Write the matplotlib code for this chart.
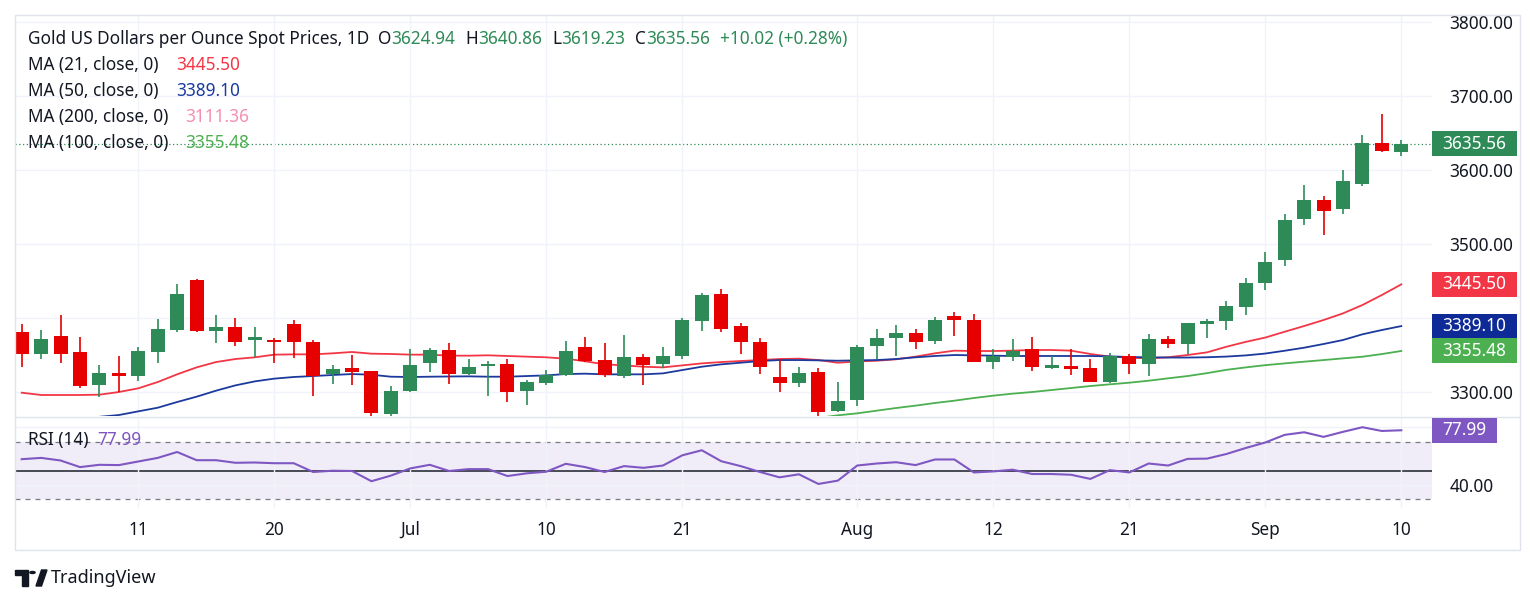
import matplotlib
matplotlib.use("Agg")
import matplotlib.pyplot as plt
import matplotlib.transforms as mtransforms
from matplotlib.patches import Rectangle, Polygon, Circle
from matplotlib.lines import Line2D
import numpy as np
import pandas as pd

plt.rcParams['font.family'] = ['Noto Sans', 'DejaVu Sans']

W, H = 1536, 604

# ---- data ----
dates = pd.bdate_range('2025-06-03', '2025-09-10')

opens = [3381.5, 3351.8, 3376.1, 3354.1, 3310.0, 3325.2, 3322.0, 3354.5, 3383.8, 3451.4,
         3382.9, 3387.8, 3369.8, 3370.3, 3391.9, 3367.1, 3323.9, 3332.4, 3327.9, 3270.7,
         3300.9, 3338.7, 3356.8, 3324.8, 3335.6, 3338.3, 3300.9, 3312.2, 3322.5, 3360.4,
         3343.2, 3321.6, 3347.3, 3338.3, 3348.6, 3396.0, 3432.4, 3389.2, 3368.0, 3320.3,
         3312.6, 3326.6, 3274.8, 3289.2, 3362.2, 3372.5, 3379.7, 3368.9, 3402.3, 3396.9,
         3341.0, 3346.9, 3358.1, 3332.0, 3334.7, 3332.0, 3313.5, 3348.6, 3338.3, 3371.2,
         3364.4, 3391.9, 3396.0, 3415.3, 3446.9, 3478.4, 3533.3, 3559.4, 3547.7, 3580.6,
         3636.0, 3624.94]
highs = [3391.9, 3383.8, 3403.6, 3374.8, 3337.0, 3348.7, 3360.4, 3398.2, 3446.4, 3452.3,
         3403.6, 3399.6, 3387.8, 3373.4, 3397.3, 3370.3, 3337.0, 3349.6, 3328.5, 3308.1,
         3358.1, 3359.5, 3365.8, 3344.6, 3341.9, 3344.6, 3316.2, 3329.3, 3368.9, 3374.8,
         3365.8, 3377.0, 3350.9, 3360.4, 3400.5, 3434.2, 3438.7, 3392.8, 3372.5, 3344.6,
         3333.3, 3332.9, 3313.5, 3363.5, 3385.2, 3390.6, 3385.2, 3400.9, 3408.6, 3405.0,
         3358.6, 3371.2, 3374.8, 3348.6, 3358.1, 3344.6, 3352.3, 3351.4, 3378.4, 3375.7,
         3393.3, 3398.2, 3423.0, 3453.6, 3489.2, 3540.5, 3579.3, 3564.9, 3600.0, 3647.3,
         3675.7, 3640.86]
lows = [3333.3, 3344.2, 3338.7, 3305.9, 3293.7, 3300.5, 3315.3, 3338.7, 3380.6, 3381.5,
        3365.8, 3362.2, 3346.9, 3339.6, 3346.4, 3294.6, 3310.8, 3309.9, 3266.7, 3266.7,
        3299.5, 3326.6, 3310.8, 3322.5, 3295.0, 3286.5, 3282.4, 3309.5, 3321.6, 3340.1,
        3319.8, 3318.9, 3309.5, 3332.0, 3345.0, 3382.9, 3381.1, 3351.4, 3324.3, 3300.5,
        3307.2, 3266.7, 3273.4, 3281.1, 3345.0, 3348.7, 3358.1, 3364.4, 3376.1, 3340.5,
        3330.6, 3341.9, 3328.8, 3331.5, 3323.0, 3313.5, 3311.7, 3324.3, 3321.6, 3359.9,
        3351.4, 3373.4, 3383.8, 3403.6, 3437.8, 3470.3, 3525.7, 3511.7, 3540.5, 3578.4,
        3624.5, 3619.23]
closes = [3351.8, 3371.6, 3351.8, 3308.6, 3325.2, 3322.0, 3355.4, 3385.2, 3432.0, 3382.9,
          3387.4, 3367.1, 3373.8, 3367.6, 3367.1, 3322.1, 3331.5, 3327.5, 3272.1, 3301.4,
          3336.5, 3356.8, 3324.3, 3334.2, 3337.4, 3299.6, 3313.1, 3323.4, 3355.4, 3341.9,
          3322.5, 3347.3, 3337.0, 3348.6, 3397.3, 3431.1, 3385.2, 3367.6, 3334.2, 3312.6,
          3325.2, 3273.4, 3288.3, 3361.3, 3373.4, 3379.7, 3367.1, 3396.9, 3397.3, 3341.0,
          3348.6, 3355.9, 3333.3, 3336.0, 3331.1, 3314.0, 3348.6, 3337.4, 3371.6, 3364.9,
          3392.8, 3396.4, 3416.2, 3447.8, 3476.1, 3532.4, 3559.4, 3545.0, 3585.6, 3636.0,
          3625.54, 3635.56]

ma21 = [3299.1, 3296.0, 3296.0, 3296.0, 3296.4, 3300.0, 3305.0, 3313.5, 3323.9, 3333.3,
        3340.5, 3344.6, 3346.9, 3350.5, 3350.9, 3350.9, 3352.3, 3354.1, 3351.8, 3351.4,
        3350.5, 3350.5, 3349.2, 3349.1, 3349.6, 3348.7, 3347.8, 3346.9, 3345.1, 3341.5,
        3337.4, 3336.0, 3334.2, 3333.3, 3336.0, 3338.7, 3340.5, 3341.9, 3343.2, 3344.6,
        3345.1, 3343.2, 3339.6, 3341.3, 3342.3, 3344.2, 3347.8, 3352.3, 3355.9, 3355.4,
        3355.4, 3355.9, 3356.8, 3356.8, 3355.9, 3351.4, 3347.8, 3346.4, 3345.5, 3347.0,
        3350.0, 3353.6, 3361.2, 3367.8, 3373.6, 3381.5, 3389.2, 3397.3, 3406.3, 3417.6,
        3431.1, 3445.50]
ma50 = [3245.0, 3251.0, 3257.0, 3262.0, 3266.5, 3268.9, 3273.9, 3278.8, 3286.5, 3293.7,
        3301.8, 3309.0, 3314.4, 3318.1, 3320.3, 3321.6, 3323.0, 3324.3, 3323.4, 3320.7,
        3320.3, 3320.7, 3321.0, 3321.2, 3320.7, 3320.7, 3321.6, 3322.5, 3324.3, 3324.8,
        3323.9, 3323.9, 3323.9, 3325.2, 3329.7, 3334.2, 3337.4, 3339.6, 3341.9, 3343.2,
        3343.2, 3342.8, 3342.3, 3342.8, 3343.2, 3344.6, 3346.9, 3348.7, 3350.0, 3349.6,
        3349.1, 3348.7, 3348.7, 3348.7, 3348.7, 3348.7, 3348.2, 3347.3, 3346.9, 3346.6,
        3346.6, 3347.0, 3347.9, 3349.5, 3352.0, 3355.8, 3359.9, 3364.9, 3370.3, 3378.0,
        3383.8, 3389.10]
ma100 = [np.nan] * 40 + [
        3261.5, 3265.0, 3268.5, 3271.2, 3274.8, 3278.4, 3281.6, 3285.2, 3288.3, 3291.9,
        3295.1, 3297.8, 3300.0, 3302.7, 3305.4, 3308.1, 3310.4, 3312.6, 3315.3, 3318.5,
        3321.6, 3325.5, 3330.0, 3333.3, 3336.3, 3338.7, 3341.0, 3343.2, 3345.5, 3347.7,
        3351.3, 3355.48]
ma200_last = 3111.36

rsi = [57.9, 58.8, 57.0, 52.4, 54.0, 53.8, 56.3, 58.8, 62.9, 57.2,
       57.2, 55.4, 55.6, 55.1, 55.1, 49.0, 49.9, 49.7, 42.6, 46.5,
       51.5, 54.0, 49.7, 51.0, 51.0, 46.2, 48.1, 49.2, 54.7, 52.4,
       49.0, 53.1, 51.9, 53.5, 60.6, 64.1, 56.5, 53.1, 49.0, 45.3,
       47.4, 40.7, 43.0, 53.5, 54.9, 55.8, 53.8, 57.7, 57.7, 48.7,
       49.4, 50.6, 47.6, 47.6, 47.1, 44.2, 50.3, 48.7, 54.9, 53.5,
       58.1, 58.3, 61.5, 65.7, 69.5, 74.8, 76.6, 73.4, 76.9, 80.1,
       77.5, 77.99]

tick_dates = ['2025-06-11', '2025-06-20', '2025-07-01', '2025-07-10', '2025-07-21',
              '2025-08-01', '2025-08-12', '2025-08-21', '2025-09-01', '2025-09-10']
tick_labels = ['11', '20', 'Jul', '10', '21', 'Aug', '12', '21', 'Sep', '10']
price_ticks = [3300, 3400, 3500, 3600, 3700, 3800]
price_tick_labels = ['3300.00', '', '3500.00', '3600.00', '3700.00', '3800.00']  # 3400 sits under a tag
rsi_ticks = [40, 80]
rsi_tick_labels = ['40.00', '']  # 80 sits under the RSI tag

# ---- colours ----
UP = '#2e8b57'
DOWN = '#e60000'
C21 = '#f23645'
C50 = '#1c3a9e'
C50_BOX = '#0d2a96'
C100 = '#4caf50'
C200 = '#f48fb1'
RSI_C = '#7e57c2'
TXT = '#131722'
GRID = '#f0f3fa'
BORDER = '#e0e3eb'
FS = 12.4


def fx(px):
    return px / W


def fy(py):
    return 1 - py / H


fig = plt.figure(figsize=(W / 100, H / 100), dpi=100)
fig.patch.set_facecolor('white')

ax = fig.add_axes([fx(15), fy(416), fx(1432) - fx(15), fy(15) - fy(416)])
rax = fig.add_axes([fx(15), fy(508), fx(1432) - fx(15), fy(417) - fy(508)], sharex=ax)

x = np.arange(len(dates))
tick_pos = [dates.get_loc(pd.Timestamp(d)) for d in tick_dates]

# candles
o = np.array(opens); h = np.array(highs); l = np.array(lows); c = np.array(closes)
cols = np.where(c >= o, UP, DOWN)
ax.vlines(x, l, h, colors=cols, lw=1.2, zorder=3)
body = np.maximum(np.abs(c - o), 1.2)
ax.bar(x, body, bottom=np.minimum(o, c), width=0.72, color=cols, zorder=4, linewidth=0)

# moving averages
ax.plot(x, ma21, color=C21, lw=1.3, zorder=2)
ax.plot(x, ma50, color=C50, lw=1.3, zorder=2)
ax.plot(x, ma100, color=C100, lw=1.3, zorder=2)

# last price dotted line
ax.axhline(closes[-1], color=UP, lw=0.9, linestyle=(0, (1, 2)), zorder=1)

ax.set_xlim(-0.345, 72.58)
ax.set_ylim(3267.6, 3809.5)
ax.set_yticks(price_ticks)
ax.set_yticklabels(price_tick_labels)
ax.set_xticks(tick_pos)
ax.grid(True, color=GRID, lw=1, zorder=0)
ax.tick_params(left=False, labelleft=False, bottom=False, labelbottom=False,
               right=False, labelright=True, pad=9, labelsize=FS, labelcolor=TXT)
for s in ax.spines.values():
    s.set_visible(False)

# RSI pane
rax.axhspan(30, 70, color=RSI_C, alpha=0.1, lw=0, zorder=0)
rax.axhline(70, color='#787b86', lw=0.9, linestyle=(0, (4, 4)), zorder=1)
rax.axhline(30, color='#787b86', lw=0.9, linestyle=(0, (4, 4)), zorder=1)
rax.axhline(50, color='#2a2e39', lw=1.2, zorder=1)
rax.plot(x, rsi, color=RSI_C, lw=1.5, zorder=3)
rax.set_ylim(24.0, 87.2)
rax.set_yticks(rsi_ticks)
rax.set_yticklabels(rsi_tick_labels)
rax.set_xticks(tick_pos)
rax.set_xticklabels(tick_labels)
rax.grid(True, color=GRID, lw=1, zorder=0)
rax.tick_params(left=False, labelleft=False, bottom=False, right=False, labelright=True,
                labelsize=FS, labelcolor=TXT)
rax.tick_params(axis='y', pad=9)
rax.tick_params(axis='x', pad=6)
for s in rax.spines.values():
    s.set_visible(False)

# frame and pane separator
fig.add_artist(Rectangle((fx(15), fy(550)), fx(1520) - fx(15), fy(15) - fy(550),
                         transform=fig.transFigure, fill=False, edgecolor=BORDER, lw=1))
fig.add_artist(Line2D([fx(15), fx(1520)], [fy(416.5), fy(416.5)],
                      transform=fig.transFigure, color=BORDER, lw=1))


def value_box(axis, value, color, half, right=1517):
    tr = mtransforms.blended_transform_factory(fig.transFigure, axis.transData)
    fig.add_artist(Rectangle((fx(1432), value - half), fx(right) - fx(1432), 2 * half,
                             transform=tr, facecolor=color, edgecolor='none', zorder=5))
    fig.text((fx(1432) + fx(right)) / 2, value, f'{value:.2f}', transform=tr,
             color='white', ha='center', va='center', fontsize=FS, zorder=6)


value_box(ax, closes[-1], UP, 16.9)
value_box(ax, ma21[-1], C21, 16.9)
value_box(ax, ma50[-1], C50_BOX, 16.9)
value_box(ax, ma100[-1], C100, 16.9)
value_box(rax, rsi[-1], RSI_C, 8.7, right=1497)

# legend texts
fig.text(fx(28), fy(39), 'Gold US Dollars per Ounce Spot Prices, 1D', color=TXT,
         fontsize=FS, va='center')
ohlc = [('O', opens[-1], 378, 391), ('H', highs[-1], 465, 478),
        ('L', lows[-1], 552, 561), ('C', closes[-1], 635, 646)]
for lab, val, xl, xv in ohlc:
    fig.text(fx(xl), fy(39), lab, color=TXT, fontsize=FS, va='center')
    fig.text(fx(xv), fy(39), f'{val:.2f}', color=UP, fontsize=FS, va='center')
chg = closes[-1] - closes[-2]
fig.text(fx(720), fy(39), f'+{chg:.2f} (+{chg / closes[-2] * 100:.2f}%)', color=UP,
         fontsize=FS, va='center')

ma_rows = [('MA (21, close, 0)', ma21[-1], C21, 65, 176),
           ('MA (50, close, 0)', ma50[-1], C50, 91, 176),
           ('MA (200, close, 0)', ma200_last, C200, 117, 185),
           ('MA (100, close, 0)', ma100[-1], C100, 143, 185)]
for lab, val, col, yy, xv in ma_rows:
    fig.text(fx(28), fy(yy), lab, color=TXT, fontsize=FS, va='center')
    fig.text(fx(xv), fy(yy), f'{val:.2f}', color=col, fontsize=FS, va='center')

fig.text(fx(28), fy(440), 'RSI (14)', color=TXT, fontsize=FS, va='center')
fig.text(fx(97), fy(440), f'{rsi[-1]:.2f}', color=RSI_C, fontsize=FS, va='center')

# TradingView logo
logo = '#131722'
fig.add_artist(Polygon([(fx(15), fy(570)), (fx(28), fy(570)), (fx(28), fy(586)),
                        (fx(22), fy(586)), (fx(22), fy(575)), (fx(15), fy(575))],
                       closed=True, transform=fig.transFigure, color=logo))
fig.add_artist(Circle((fx(32.5), fy(572.5)), 2.6 / W, transform=fig.transFigure, color=logo))
fig.add_artist(Polygon([(fx(36), fy(586)), (fx(41.5), fy(586)), (fx(47), fy(570)),
                        (fx(41.5), fy(570))],
                       closed=True, transform=fig.transFigure, color=logo))
fig.text(fx(51), fy(578), 'TradingView', color=logo, fontsize=13, va='center')

fig.savefig('out.png', dpi=100)
